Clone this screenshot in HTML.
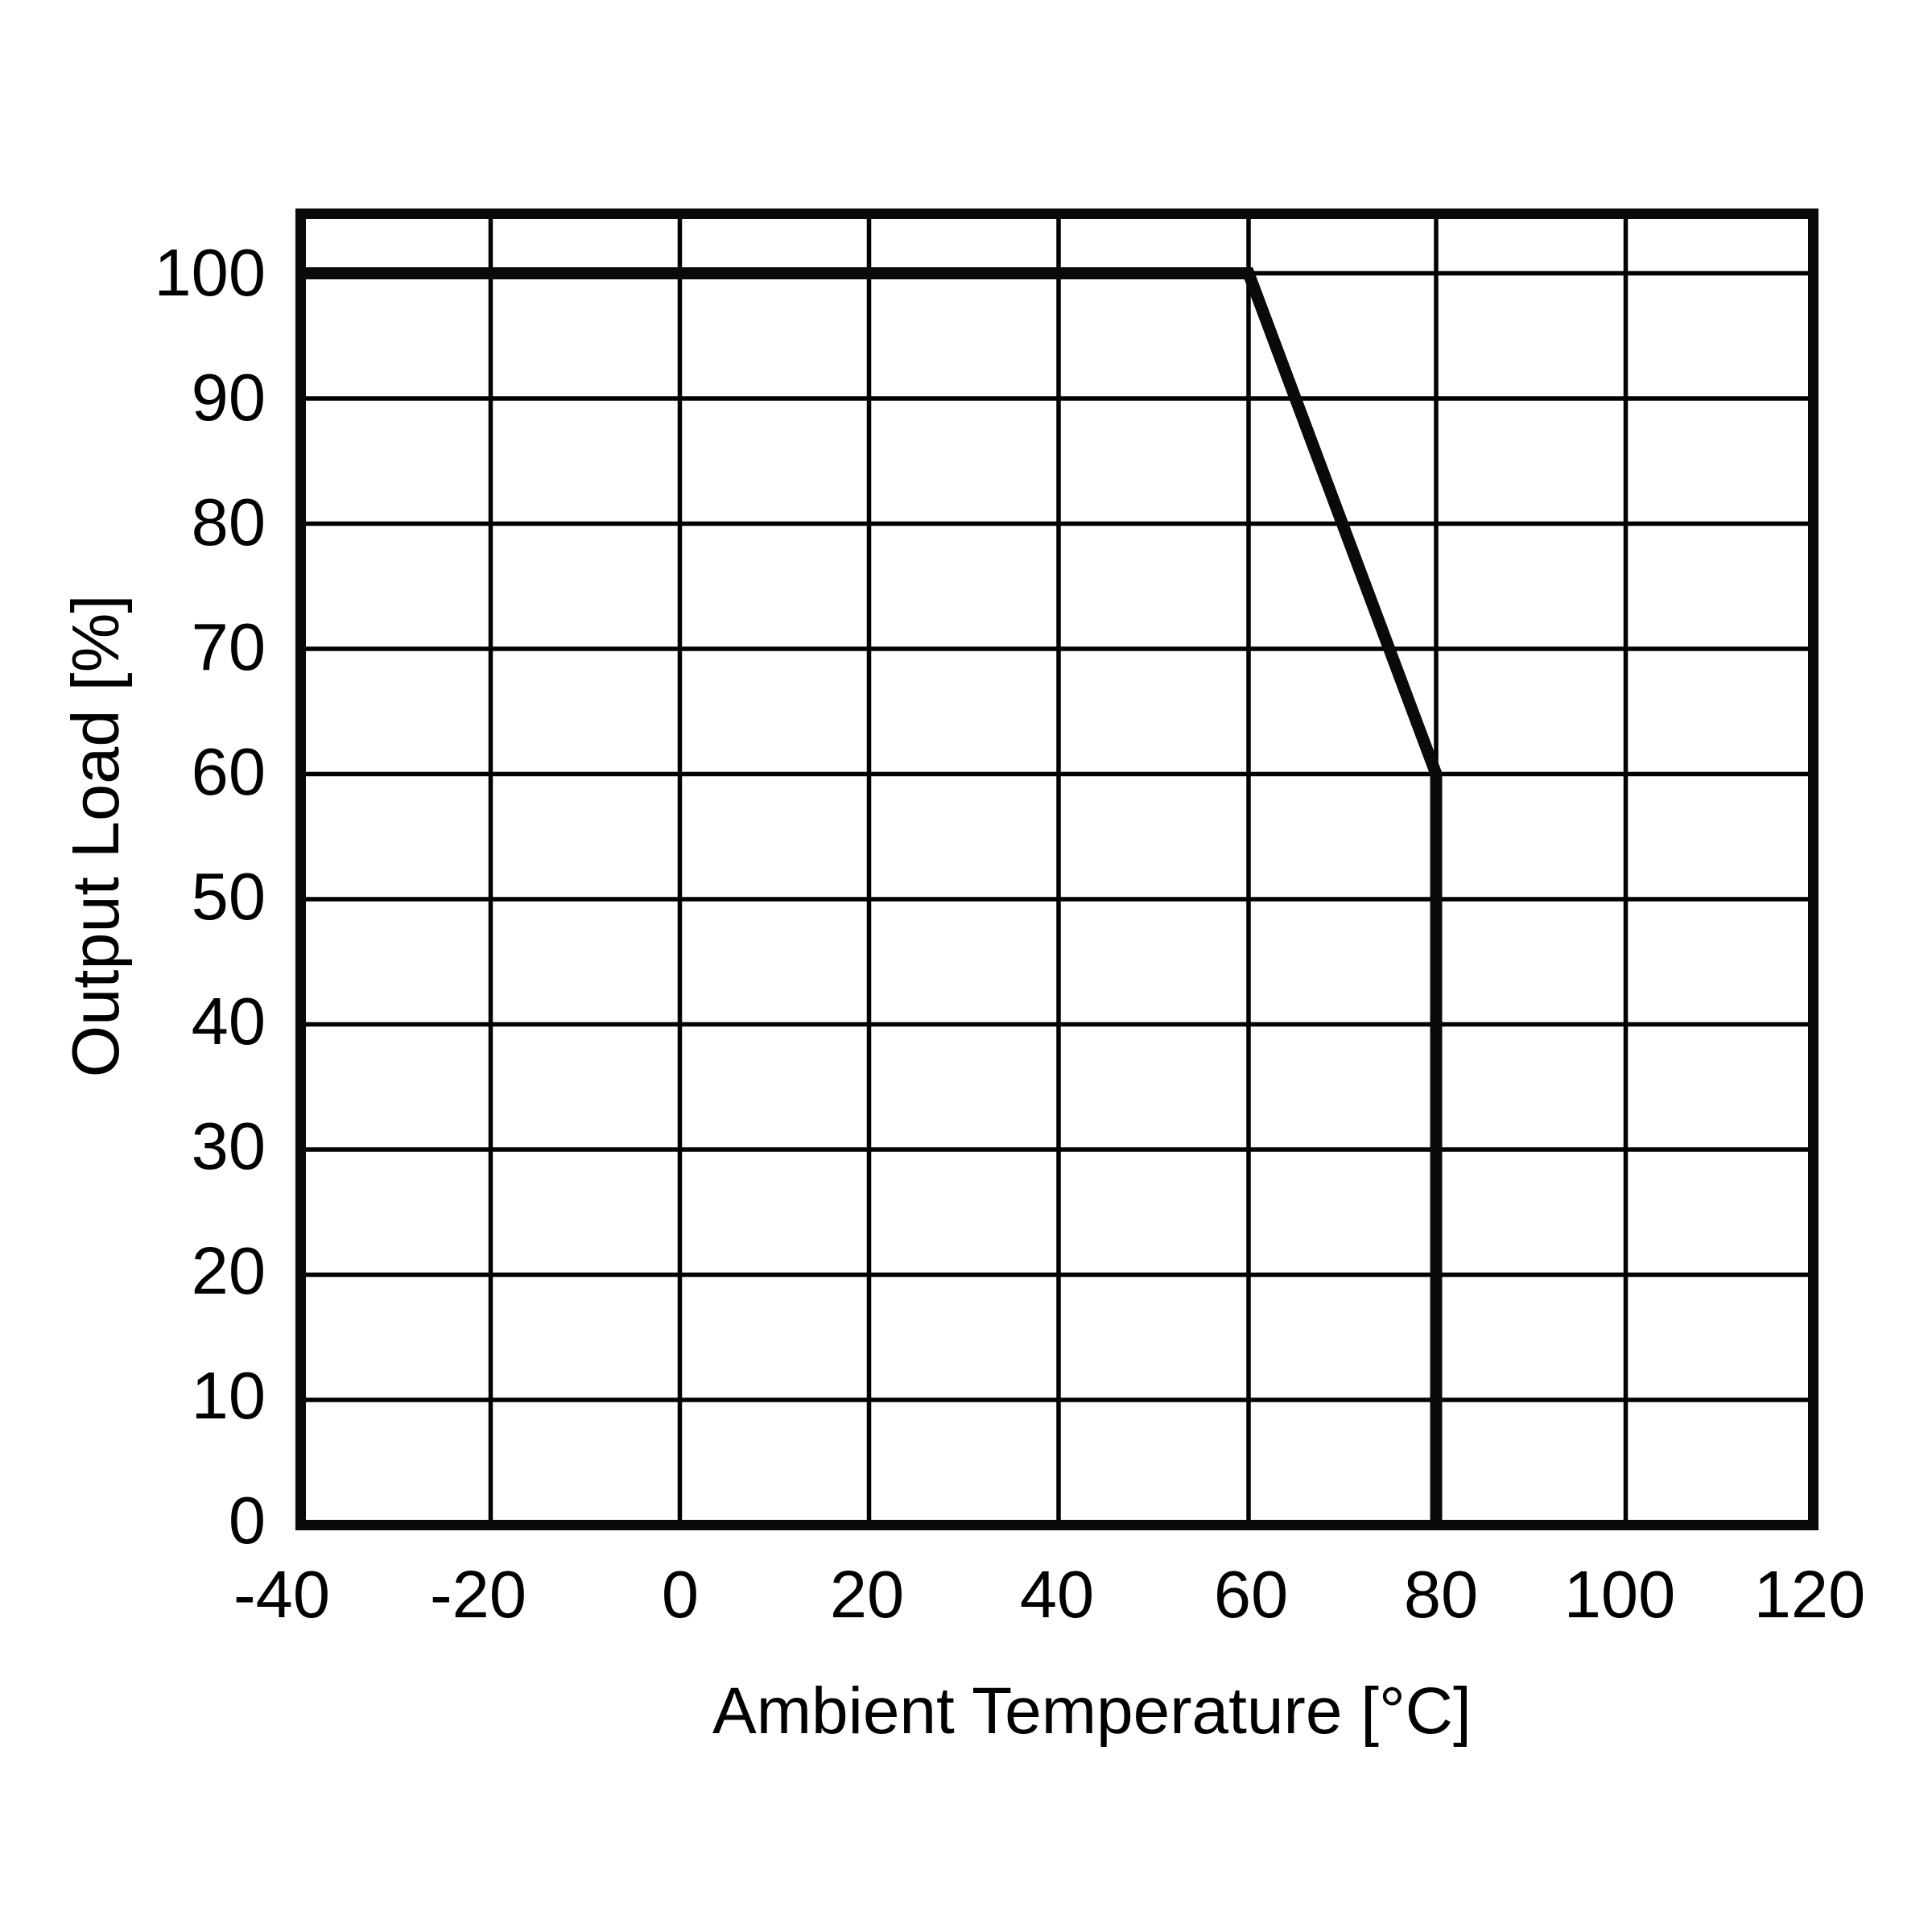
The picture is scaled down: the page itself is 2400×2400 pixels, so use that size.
<!DOCTYPE html>
<html>
<head>
<meta charset="utf-8">
<style>
  html, body { margin: 0; padding: 0; background: #fff; }
  svg { display: block; }
  text { font-family: "Liberation Sans", Arial, sans-serif; font-size: 83px; fill: #000; }
</style>
</head>
<body>
<svg width="2400" height="2400" viewBox="0 0 2400 2400" xmlns="http://www.w3.org/2000/svg">
  <rect x="0" y="0" width="2400" height="2400" fill="#fff"/>
  <!-- vertical grid lines -->
  <g stroke="#000" stroke-width="5.5">
    <line x1="609.5" y1="265.5" x2="609.5" y2="1894.5"/>
    <line x1="844.5" y1="265.5" x2="844.5" y2="1894.5"/>
    <line x1="1079.5" y1="265.5" x2="1079.5" y2="1894.5"/>
    <line x1="1315" y1="265.5" x2="1315" y2="1894.5"/>
    <line x1="1551" y1="265.5" x2="1551" y2="1894.5"/>
    <line x1="1784" y1="265.5" x2="1784" y2="1894.5"/>
    <line x1="2019.5" y1="265.5" x2="2019.5" y2="1894.5"/>
    <!-- horizontal grid lines -->
    <line x1="373.5" y1="339.5" x2="2252.5" y2="339.5"/>
    <line x1="373.5" y1="495" x2="2252.5" y2="495"/>
    <line x1="373.5" y1="650.5" x2="2252.5" y2="650.5"/>
    <line x1="373.5" y1="806" x2="2252.5" y2="806"/>
    <line x1="373.5" y1="961.5" x2="2252.5" y2="961.5"/>
    <line x1="373.5" y1="1117" x2="2252.5" y2="1117"/>
    <line x1="373.5" y1="1272.5" x2="2252.5" y2="1272.5"/>
    <line x1="373.5" y1="1428" x2="2252.5" y2="1428"/>
    <line x1="373.5" y1="1583.5" x2="2252.5" y2="1583.5"/>
    <line x1="373.5" y1="1739" x2="2252.5" y2="1739"/>
  </g>
  <!-- plot border -->
  <rect x="373.5" y="265.5" width="1879" height="1629" fill="none" stroke="#0a0a0a" stroke-width="13"/>
  <!-- data line -->
  <polyline points="373.5,339.5 1551,339.5 1784,961.5 1784,1894.5" fill="none" stroke="#0a0a0a" stroke-width="15" stroke-linejoin="miter"/>

  <!-- y tick labels -->
  <g text-anchor="end">
    <text x="330" y="367">100</text>
    <text x="330" y="522">90</text>
    <text x="330" y="677">80</text>
    <text x="330" y="832">70</text>
    <text x="330" y="987">60</text>
    <text x="330" y="1142">50</text>
    <text x="330" y="1297">40</text>
    <text x="330" y="1452">30</text>
    <text x="330" y="1607">20</text>
    <text x="330" y="1762">10</text>
    <text x="330" y="1917">0</text>
  </g>

  <!-- x tick labels -->
  <g text-anchor="middle">
    <text x="350" y="2009">-40</text>
    <text x="594" y="2009">-20</text>
    <text x="845" y="2009">0</text>
    <text x="1077" y="2009">20</text>
    <text x="1313" y="2009">40</text>
    <text x="1554" y="2009">60</text>
    <text x="1790" y="2009">80</text>
    <text x="2012" y="2009">100</text>
    <text x="2248" y="2009">120</text>
  </g>

  <!-- axis titles -->
  <text x="885" y="2153" style="font-size:82px">Ambient Temperature [°C]</text>
  <text transform="translate(147,1038.5) rotate(-90)" text-anchor="middle">Output Load [%]</text>
</svg>
</body>
</html>
